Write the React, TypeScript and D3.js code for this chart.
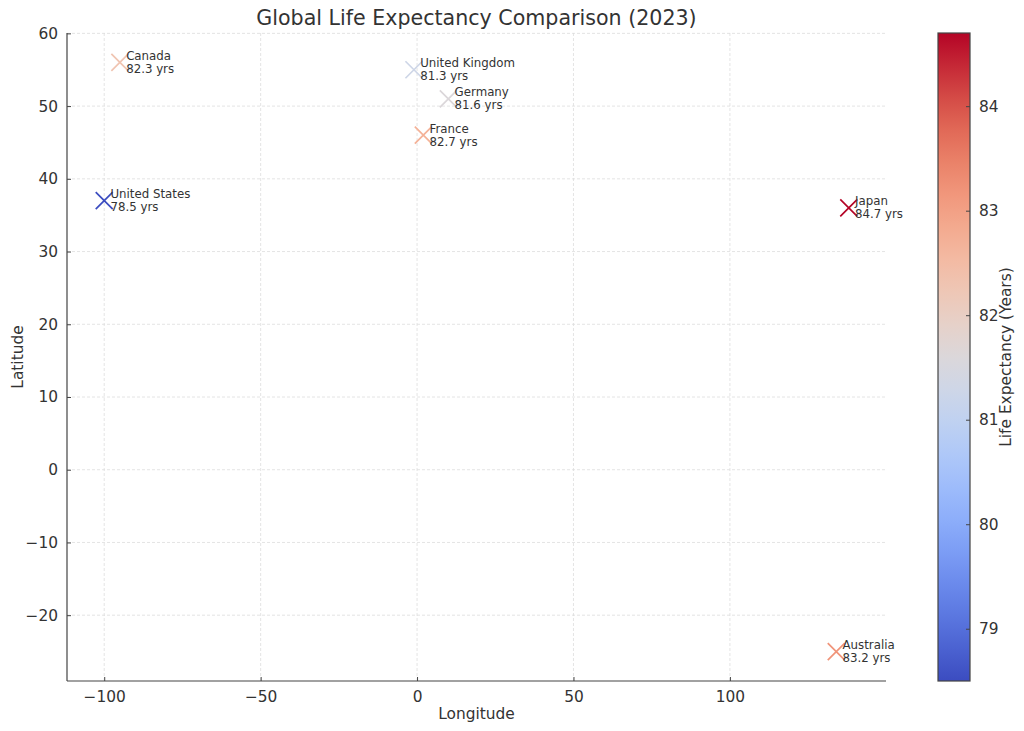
import { useEffect, useRef } from 'react';
import * as d3 from 'd3';

const countries = ['United States', 'Canada', 'United Kingdom', 'Germany', 'France', 'Japan', 'Australia'];
const longitudes = [-100, -95, -1, 10, 2, 138, 134];
const latitudes = [37, 56, 55, 51, 46, 36, -25];
const lifeExpectancy = [78.5, 82.3, 81.3, 81.6, 82.7, 84.7, 83.2];

const xTicks = [-100, -50, 0, 50, 100];
const yTicks = [-20, -10, 0, 10, 20, 30, 40, 50, 60];
const cbTicks = [79, 80, 81, 82, 83, 84];

// coolwarm control colours
const coolwarm = d3.interpolateRgbBasis([
  '#3b4cc0', '#6282ea', '#8db0fe', '#b8d0f9', '#dddddd',
  '#f5c4ad', '#f49a7b', '#de604d', '#b40426',
]);

const W = 1024;
const H = 731;
const font = 'DejaVu Sans, sans-serif';
const textColor = '#333333';
const axisColor = '#444444';
const tickSize = '15.4px';

const fmt = (d: any) => d3.format('d')(d as number).replace('-', '\u2212');

export default function App() {
  const ref = useRef<SVGSVGElement>(null);

  useEffect(() => {
    document.body.style.margin = '0';
    const svg = d3.select(ref.current);
    svg.selectAll('*').remove();

    const left = 67, right = 886, top = 33, bottom = 681;

    const [lonMin, lonMax] = d3.extent(longitudes) as [number, number];
    const [latMin, latMax] = d3.extent(latitudes) as [number, number];
    const lonPad = (lonMax - lonMin) * 0.05;
    const latPad = (latMax - latMin) * 0.05;

    const x = d3.scaleLinear().domain([lonMin - lonPad, lonMax + lonPad]).range([left, right]);
    const y = d3.scaleLinear().domain([latMin - latPad, latMax + latPad]).range([bottom, top]);

    const [leMin, leMax] = d3.extent(lifeExpectancy) as [number, number];
    const color = (v: number) => coolwarm((v - leMin) / (leMax - leMin));

    // grid
    const grid = svg.append('g');
    grid.selectAll('line.gx').data(xTicks).enter().append('line')
      .attr('x1', d => x(d)).attr('x2', d => x(d))
      .attr('y1', top).attr('y2', bottom)
      .attr('stroke', '#dddddd').attr('stroke-width', 0.8).attr('stroke-dasharray', '3,2');
    grid.selectAll('line.gy').data(yTicks).enter().append('line')
      .attr('x1', left).attr('x2', right)
      .attr('y1', d => y(d)).attr('y2', d => y(d))
      .attr('stroke', '#dddddd').attr('stroke-width', 0.8).attr('stroke-dasharray', '3,2');

    // axes (ticks pointing in)
    const xAxis = d3.axisBottom(x).tickValues(xTicks).tickSizeInner(-4).tickSizeOuter(0)
      .tickPadding(10).tickFormat(fmt);
    const gx = svg.append('g').attr('transform', `translate(0,${bottom})`).call(xAxis);
    const yAxis = d3.axisLeft(y).tickValues(yTicks).tickSizeInner(-4).tickSizeOuter(0)
      .tickPadding(9).tickFormat(fmt);
    const gy = svg.append('g').attr('transform', `translate(${left},0)`).call(yAxis);

    [gx, gy].forEach(g => {
      g.select('.domain').attr('stroke', axisColor).attr('stroke-width', 1.2)
        .attr('d', g === gx ? `M${left},0H${right}` : `M0,${bottom}V${top}`);
      g.selectAll('.tick line').attr('stroke', axisColor);
      g.selectAll('.tick text').attr('fill', textColor).style('font-family', font).style('font-size', tickSize);
    });

    // markers
    const arm = 8.5;
    const pts = svg.append('g').selectAll('g').data(countries).enter().append('g')
      .attr('transform', (d, i) => `translate(${x(longitudes[i])},${y(latitudes[i])})`);
    pts.append('path')
      .attr('d', `M${-arm},${-arm}L${arm},${arm}M${-arm},${arm}L${arm},${-arm}`)
      .attr('stroke', (d, i) => color(lifeExpectancy[i]))
      .attr('stroke-width', 1.7)
      .attr('fill', 'none');

    // labels
    const labels = svg.append('g').selectAll('text').data(countries).enter().append('text')
      .attr('x', (d, i) => x(longitudes[i] + 2))
      .attr('y', (d, i) => y(latitudes[i]))
      .attr('fill', textColor)
      .style('font-family', font)
      .style('font-size', '11.8px');
    labels.append('tspan').attr('x', (d, i) => x(longitudes[i] + 2)).attr('dy', -2.5).text(d => d);
    labels.append('tspan').attr('x', (d, i) => x(longitudes[i] + 2)).attr('dy', 13)
      .text((d, i) => `${lifeExpectancy[i].toFixed(1)} yrs`);

    // title & axis labels
    svg.append('text').attr('x', (left + right) / 2).attr('y', 25).attr('text-anchor', 'middle')
      .attr('fill', textColor).style('font-family', font).style('font-size', '20.6px')
      .text('Global Life Expectancy Comparison (2023)');
    svg.append('text').attr('x', (left + right) / 2).attr('y', 719).attr('text-anchor', 'middle')
      .attr('fill', textColor).style('font-family', font).style('font-size', tickSize).text('Longitude');
    svg.append('text').attr('transform', `translate(23,${(top + bottom) / 2}) rotate(-90)`)
      .attr('text-anchor', 'middle')
      .attr('fill', textColor).style('font-family', font).style('font-size', tickSize).text('Latitude');

    // colorbar
    const cbL = 938, cbR = 970;
    const cy = d3.scaleLinear().domain([leMin, leMax]).range([bottom, top]);
    const grad = svg.append('defs').append('linearGradient').attr('id', 'cbgrad')
      .attr('x1', 0).attr('y1', 1).attr('x2', 0).attr('y2', 0);
    d3.range(0, 1.0001, 0.05).forEach(t => {
      grad.append('stop').attr('offset', t).attr('stop-color', coolwarm(t));
    });
    svg.append('rect').attr('x', cbL).attr('y', top).attr('width', cbR - cbL).attr('height', bottom - top)
      .attr('fill', 'url(#cbgrad)').attr('stroke', axisColor).attr('stroke-width', 1.2);
    const cbAxis = d3.axisRight(cy).tickValues(cbTicks).tickSizeInner(-4).tickSizeOuter(0)
      .tickPadding(9).tickFormat(fmt);
    const gc = svg.append('g').attr('transform', `translate(${cbR},0)`).call(cbAxis);
    gc.select('.domain').remove();
    gc.selectAll('.tick line').attr('stroke', axisColor);
    gc.selectAll('.tick text').attr('fill', textColor).style('font-family', font).style('font-size', tickSize);
    svg.append('text').attr('transform', `translate(1011,${(top + bottom) / 2}) rotate(-90)`)
      .attr('text-anchor', 'middle')
      .attr('fill', textColor).style('font-family', font).style('font-size', tickSize)
      .text('Life Expectancy (Years)');
  }, []);

  return <svg ref={ref} width={W} height={H} style={{ display: 'block', background: '#fff' }} />;
}
